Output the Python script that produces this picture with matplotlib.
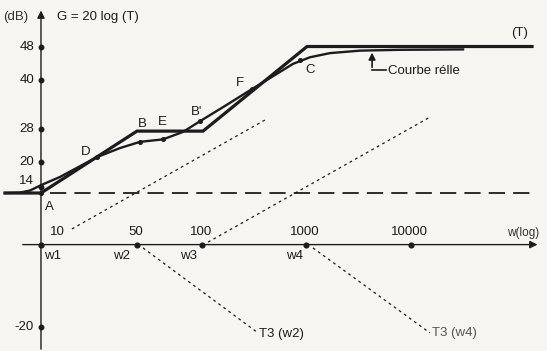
import matplotlib.pyplot as plt

# Axe des fréquences schématique (position en "décades" du dessin)
freq_labels = ['10', '50', '100', '1000', '10000']
freq_pos = [0.0, 0.923, 1.548, 2.548, 3.558]
w_names = ['w1', 'w2', 'w3', 'w4']

# Graduations en dB
db_ticks = [48, 40, 28, 20, 14, -20]

# Diagramme asymptotique (T)
asym_x = [-0.346, 0.0, 0.923, 1.558, 2.558, 4.721]
asym_db = [12.5, 12.5, 27.5, 27.5, 48.0, 48.0]

# Courbe réelle
reel_x = [-0.346, -0.202, -0.106, 0.0, 0.183, 0.538, 0.760, 0.952, 1.173, 1.365,
          1.529, 1.769, 2.029, 2.250, 2.423, 2.587, 2.779, 3.067, 3.452, 4.058]
reel_db = [12.5, 12.6, 13.1, 14.4, 16.4, 21.2, 23.4, 24.9, 25.5, 27.3,
           29.9, 33.6, 37.7, 41.1, 43.8, 45.4, 46.4, 47.0, 47.2, 47.3]

# Points remarquables
pts_nom = ['A', 'D', 'B', 'E', "B'", 'F', 'C']
pts_x = [0.0, 0.538, 0.952, 1.173, 1.529, 2.029, 2.49]
pts_db = [12.5, 21.2, 24.9, 25.5, 29.9, 37.7, 44.8]
lab_x = [0.077, 0.433, 0.971, 1.163, 1.50, 1.913, 2.587]
lab_db = [9.1, 22.4, 29.2, 29.7, 32.1, 39.2, 42.3]

# Asymptotes T3 (en pointillés)
t3_seg = [((0.298, 3.8), (2.154, 30.2)),
          ((1.606, 0.6), (3.740, 30.9)),
          ((0.981, -0.8), (2.087, -21.4)),
          ((2.615, -0.8), (3.740, -21.4))]

niveau_bas = 12.5
ink = '#1c1c1c'

fig = plt.figure(figsize=(5.47, 3.51), dpi=100)
fig.patch.set_facecolor('#f6f5f2')
ax = fig.add_axes([0, 0, 1, 1])
ax.set_facecolor('#f6f5f2')
ax.set_xlim(-0.394, 4.865)
ax.set_ylim(-25.78, 59.27)
ax.axis('off')

plt.rcParams['font.family'] = ['Liberation Sans', 'DejaVu Sans']
fs = 9.5

# Axes avec flèches
ax.annotate('', xy=(4.80, 0), xytext=(-0.202, 0),
            arrowprops=dict(arrowstyle='-|>', color=ink, lw=1.0, mutation_scale=11))
ax.annotate('', xy=(0, 57.4), xytext=(0, -26),
            arrowprops=dict(arrowstyle='-|>', color=ink, lw=1.0, mutation_scale=11))

# Ligne de niveau bas (tirets)
ax.plot([0.087, 4.75], [niveau_bas, niveau_bas], color=ink, lw=1.3,
        dashes=(9, 4.5))

# Asymptotes T3
for (x0, y0), (x1, y1) in t3_seg:
    ax.plot([x0, x1], [y0, y1], color=ink, lw=0.9, dashes=(2.2, 2.8))

# Courbes
ax.plot(asym_x, asym_db, color=ink, lw=2.3, solid_joinstyle='miter')
ax.plot(reel_x, reel_db, color=ink, lw=1.7)

# Graduations
ax.plot([0] * len(db_ticks), db_ticks, 'o', color=ink, ms=3.2)
for v in db_ticks:
    dy = 4 if v == 14 else 0
    ax.annotate(str(v), (0, v), xytext=(-5, dy), textcoords='offset points',
                ha='right', va='center', fontsize=fs, color=ink)

ax.plot(freq_pos, [0] * len(freq_pos), 'o', color=ink, ms=3.4)
for i, (lab, x) in enumerate(zip(freq_labels, freq_pos)):
    dx = 12 if i == 0 else -1
    ax.annotate(lab, (x, 0), xytext=(dx, 9), textcoords='offset points',
                ha='center', va='center', fontsize=fs, color=ink)
w_dx = [8, -11, -10, -8]
for name, x, dx in zip(w_names, freq_pos, w_dx):
    ax.annotate(name, (x, 0), xytext=(dx, -8), textcoords='offset points',
                ha='center', va='center', fontsize=fs, color=ink)

# Points remarquables
ax.plot(pts_x, pts_db, 'o', color=ink, ms=2.6)
for n, x, y in zip(pts_nom, lab_x, lab_db):
    ax.text(x, y, n, ha='center', va='center', fontsize=fs, color=ink)

# Textes
ax.text(-0.24, 55.2, '(dB)', ha='center', va='center', fontsize=fs, color='#333333')
ax.text(0.154, 55.2, 'G = 20 log (T)', ha='left', va='center', fontsize=fs, color=ink)
ax.text(4.606, 51.3, '(T)', ha='center', va='center', fontsize=fs, color=ink)
ax.text(4.64, 2.8, 'w(log)', ha='center', va='center', fontsize=fs - 1, color='#333333')
ax.text(3.337, 42.1, 'Courbe rélle', ha='left', va='center', fontsize=fs, color=ink)
ax.annotate('', xy=(3.183, 47.2), xytext=(3.183, 42.3),
            arrowprops=dict(arrowstyle='-|>', color=ink, lw=1.2, mutation_scale=10))
ax.plot([3.183, 3.317], [42.3, 42.3], color=ink, lw=1.2)
ax.text(2.10, -21.7, 'T3 (w2)', ha='left', va='center', fontsize=fs, color=ink)
ax.text(3.755, -21.4, 'T3 (w4)', ha='left', va='center', fontsize=fs, color='#555555')

fig.savefig('out.png', dpi=100, facecolor=fig.get_facecolor())
